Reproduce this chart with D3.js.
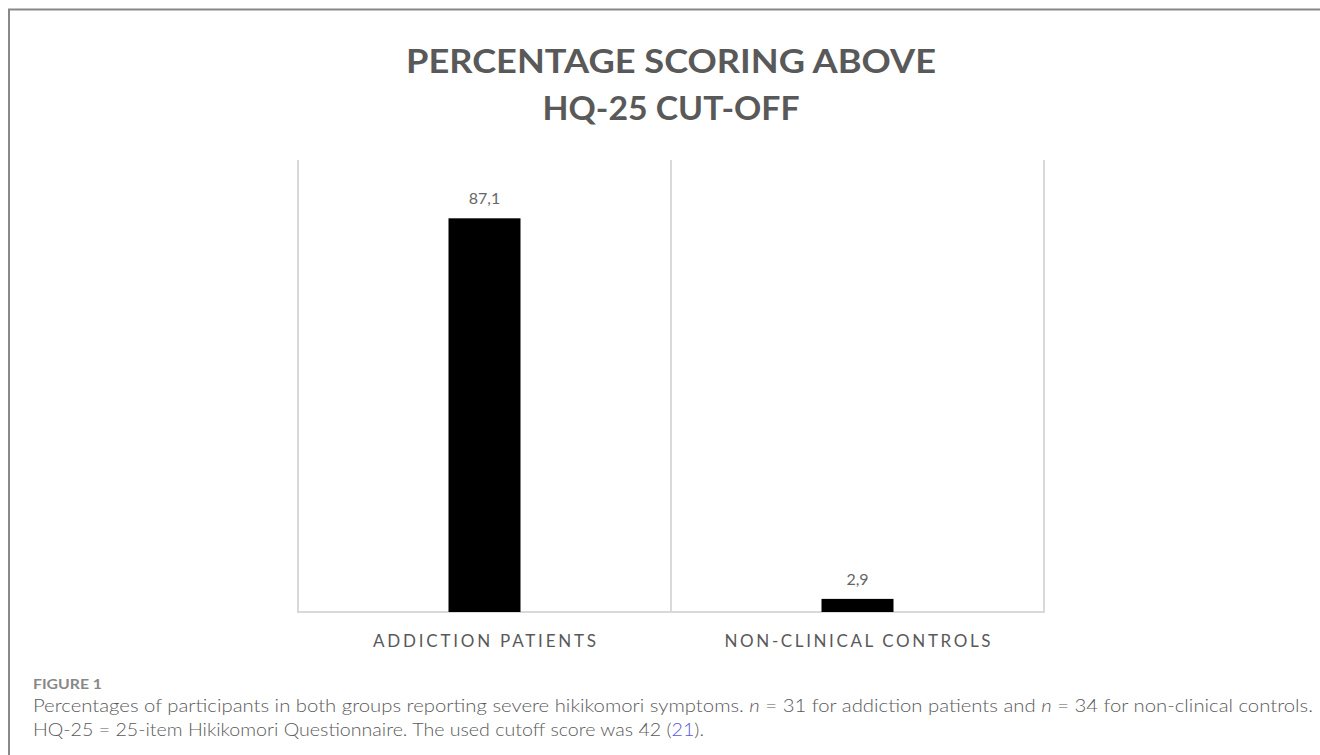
<!DOCTYPE html>
<html><head><meta charset="utf-8">
<script src="https://cdn.jsdelivr.net/npm/d3@7"></script>
<style>html,body{margin:0;padding:0;background:#fff;}svg{display:block;}</style>
</head><body>
<svg id="c" width="1320" height="755"></svg>
<script>
const categories = ["ADDICTION PATIENTS", "NON-CLINICAL CONTROLS"];
const values = [87.1, 2.9];
const valueLabels = ["87,1", "2,9"];
const titleLines = ["PERCENTAGE SCORING ABOVE", "HQ-25 CUT-OFF"];

const svg = d3.select("#c");
// frame
svg.append("path").attr("d","M9,755 V9.5 H1320").attr("fill","none").attr("stroke","#888").attr("stroke-width",2);

const x = d3.scaleBand().domain(categories).range([298,1044]).padding(0);
const y = d3.scaleLinear().domain([0,100]).range([612,160]);

// title
const tw = [530, 257];
titleLines.forEach((t,i)=>{
  svg.append("text").attr("x",671).attr("y",73+i*47).attr("text-anchor","middle")
    .attr("font-family","Lato, 'Open Sans', sans-serif").attr("font-weight","bold")
    .attr("font-size",33).attr("fill","#595959")
    .attr("textLength",tw[i]).attr("lengthAdjust","spacingAndGlyphs").text(t);
});

// separators
const seps = [x.range()[0], ...categories.slice(1).map(c=>x(c)), x.range()[1]];
svg.selectAll("line.sep").data(seps).enter().append("line")
  .attr("x1",d=>d).attr("x2",d=>d).attr("y1",y(100)).attr("y2",y(0))
  .attr("stroke","#d9d9d9").attr("stroke-width",2);
svg.append("line").attr("x1",x.range()[0]-1).attr("x2",x.range()[1]+1).attr("y1",y(0)).attr("y2",y(0))
  .attr("stroke","#d9d9d9").attr("stroke-width",2);

const bw = 72;
svg.selectAll("rect.bar").data(values).enter().append("rect")
  .attr("x",(d,i)=>x(categories[i])+x.bandwidth()/2-bw/2)
  .attr("y",d=>y(d)).attr("width",bw).attr("height",d=>y(0)-y(d)).attr("fill","#000");

svg.selectAll("text.val").data(values).enter().append("text")
  .attr("x",(d,i)=>x(categories[i])+x.bandwidth()/2).attr("y",d=>y(d)-14)
  .attr("text-anchor","middle").attr("font-family","Lato, sans-serif").attr("font-size",16)
  .attr("fill","#666").text((d,i)=>valueLabels[i]);

const cw = [223, 266];
svg.selectAll("text.cat").data(categories).enter().append("text")
  .attr("x",d=>x(d)+x.bandwidth()/2).attr("y",647).attr("text-anchor","middle")
  .attr("font-family","Lato, sans-serif").attr("font-size",17).attr("fill","#595959")
  .attr("textLength",(d,i)=>cw[i]).attr("lengthAdjust","spacing").text(d=>d);

// caption
svg.append("text").attr("x",33).attr("y",689).attr("font-family","Lato, sans-serif")
  .attr("font-size",13.5).attr("font-weight","bold").attr("fill","#888")
  .attr("textLength",69).attr("lengthAdjust","spacingAndGlyphs").text("FIGURE 1");
const cap1 = svg.append("text").attr("x",33).attr("y",712).attr("font-family","Lato, sans-serif")
  .attr("font-size",17).attr("font-weight",300).attr("fill","#5a5a5a").attr("textLength",1280).attr("lengthAdjust","spacingAndGlyphs");
cap1.append("tspan").text("Percentages of participants in both groups reporting severe hikikomori symptoms. ");
cap1.append("tspan").attr("font-style","italic").text("n");
cap1.append("tspan").text(" = 31 for addiction patients and ");
cap1.append("tspan").attr("font-style","italic").text("n");
cap1.append("tspan").text(" = 34 for non-clinical controls.");
const cap2 = svg.append("text").attr("x",33).attr("y",736).attr("font-family","Lato, sans-serif")
  .attr("font-size",17).attr("font-weight",300).attr("fill","#5a5a5a").attr("textLength",671).attr("lengthAdjust","spacingAndGlyphs");
cap2.append("tspan").text("HQ-25 = 25-item Hikikomori Questionnaire. The used cutoff score was 42 (");
cap2.append("tspan").attr("fill","#5a5ae0").text("21");
cap2.append("tspan").text(").");
</script>
</body></html>
